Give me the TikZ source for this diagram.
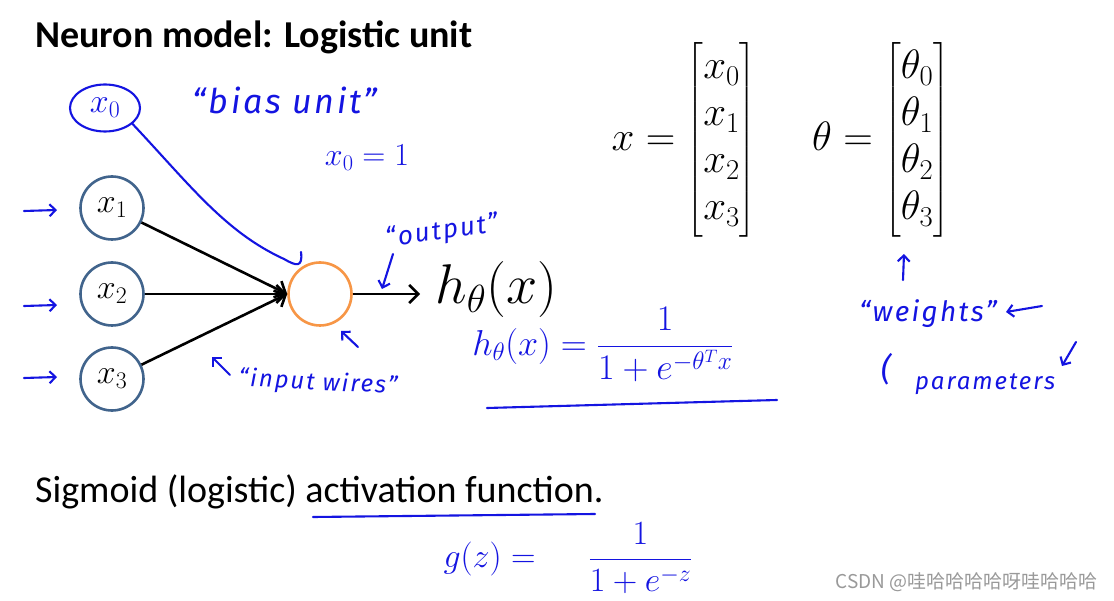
\documentclass[tikz,border=0pt]{standalone}
\usepackage{fix-cm}
\usepackage{amsmath}
\usepackage{fontspec}
\newfontfamily\slidefont{Carlito}
\newfontfamily\handfont[LetterSpace=8]{Fira Sans}
\newfontfamily\cjkfont{Noto Sans CJK SC}
\usetikzlibrary{arrows.meta, positioning, shapes.geometric}
\definecolor{unitblue}{RGB}{65,100,140}
\definecolor{sumorange}{RGB}{247,150,70}
\definecolor{handblue}{RGB}{20,20,225}

\begin{document}
\begin{tikzpicture}[x=1pt, y=-1pt,
    unit/.style={circle, draw=unitblue, line width=2.6pt, minimum size=63pt, inner sep=0pt, font=\fontsize{34}{40}\selectfont},
    sumunit/.style={unit, draw=sumorange},
    wire/.style={line width=2.6pt, -{Straight Barb[length=9pt, width=18pt]}},
    hand/.style={draw=handblue, line width=2.1pt, line cap=round, line join=round},
    handarrow/.style={hand, -{Straight Barb[length=6pt, width=12pt]}},
    note/.style={text=handblue, inner sep=0pt, font=\handfont\itshape\fontsize{24}{28}\selectfont},
    handmath/.style={text=handblue, inner sep=0pt}
  ]
    \fill[white] (0,0) rectangle (1114,601);
    \useasboundingbox (0,0) rectangle (1114,601);

    \node[anchor=base west, inner sep=0pt, font=\slidefont\bfseries\fontsize{38}{44}\selectfont] (title) at (35,48) {Neuron model: Logistic unit};

    \node[unit] (x1) at (112,208) {$x_1$};
    \node[unit] (x2) at (112,294) {$x_2$};
    \node[unit] (x3) at (112,379) {$x_3$};
    \node[sumunit] (out) at (320,294) {};
    \node[anchor=west, inner xsep=15pt, font=\fontsize{56}{66}\selectfont] (hx) at (420,290) {$h_\theta(x)$};

    \draw[wire] (x1) -- (out.west);
    \draw[wire] (x2) -- (out.west);
    \draw[wire] (x3) -- (out.west);
    \draw[wire] (out) -- (out -| hx.west);

    \node[ellipse, hand, minimum width=70pt, minimum height=47pt, inner sep=0pt, text=handblue, font=\fontsize{34}{40}\selectfont] (x0) at (105,108) {$x_0$};
    \coordinate (biastip) at (301,252);
    \draw[hand] (x0.-30) .. controls (190,185) and (225,232) .. (284,259) .. controls (296,266) and (303,268) .. (biastip);

    \node[note, font=\handfont\itshape\fontsize{34}{40}\selectfont] (biaslab) at (285,100) {“bias unit”};
    \node[handmath, font=\fontsize{32}{38}\selectfont] (x0eq) at (367,158) {$x_0=1$};

    \foreach \i/\y in {1/211, 2/306, 3/378} {
      \coordinate (in\i) at (24,\y);
      \draw[handarrow] (in\i) -- ++(33,-1);
    }

    \node[note, rotate=8, font=\handfont\itshape\fontsize{26}{30}\selectfont] (outlab) at (442,232) {“output”};
    \coordinate (outtail) at (393,254);
    \coordinate (outtip) at (382,289);
    \draw[handarrow] (outtail) -- (outtip);
    \coordinate (sumtail) at (358,347);
    \coordinate (sumtip) at (341,331);
    \draw[handarrow] (sumtail) -- (sumtip);

    \node[note, rotate=-3] (wirelab) at (318,383) {“input wires”};
    \coordinate (wiretail) at (230,375);
    \coordinate (wiretip) at (212,357);
    \draw[handarrow] (wiretail) -- (wiretip);

    \node[handmath, font=\fontsize{36}{42}\selectfont] (hdef) at (603,345) {$h_\theta(x) = \dfrac{1}{1+e^{-\theta^T x}}$};
    \coordinate (hline1) at (487,408);
    \coordinate (hline2) at (777,400);
    \draw[hand] (hline1) -- (hline2);

    \node[font=\fontsize{41}{47}\selectfont] (xvec) at (684,140) {$x = \begin{bmatrix} x_0\\ x_1\\ x_2\\ x_3 \end{bmatrix}$};
    \node[font=\fontsize{41}{47}\selectfont] (thetavec) at (881,140) {$\theta = \begin{bmatrix} \theta_0\\ \theta_1\\ \theta_2\\ \theta_3 \end{bmatrix}$};

    \coordinate (uptail) at (903,280);
    \coordinate (uptip) at (904,254);
    \draw[handarrow] (uptail) -- (uptip);
    \node[note, font=\handfont\itshape\fontsize{28}{32}\selectfont] (wlab) at (928,314) {“weights”};
    \coordinate (wtail) at (1042,306);
    \coordinate (wtip) at (1006,312);
    \draw[handarrow] (wtail) -- (wtip);
    \node[note] (plab) at (968,374) {\raisebox{9pt}{\fontsize{32}{36}\selectfont(}\quad parameters};
    \coordinate (ptail) at (1076,342);
    \coordinate (ptip) at (1062,366);
    \draw[handarrow] (ptail) -- (ptip);

    \node[anchor=base west, inner sep=0pt, font=\slidefont\fontsize{38}{44}\selectfont] (sig) at (35,502) {Sigmoid (logistic) activation function.};
    \coordinate (sline1) at (313,517);
    \coordinate (sline2) at (595,514);
    \draw[hand] (sline1) -- (sline2);
    \node[handmath, font=\fontsize{34}{40}\selectfont] (gdef) at (568,558) {$g(z) = \quad\;\dfrac{1}{1+e^{-z}}$};

    \node[anchor=base east, inner sep=0pt, text=gray!80, font=\cjkfont\fontsize{19}{22}\selectfont] (mark) at (1098,588) {CSDN @哇哈哈哈哈呀哇哈哈哈};
  \end{tikzpicture}
\end{document}
